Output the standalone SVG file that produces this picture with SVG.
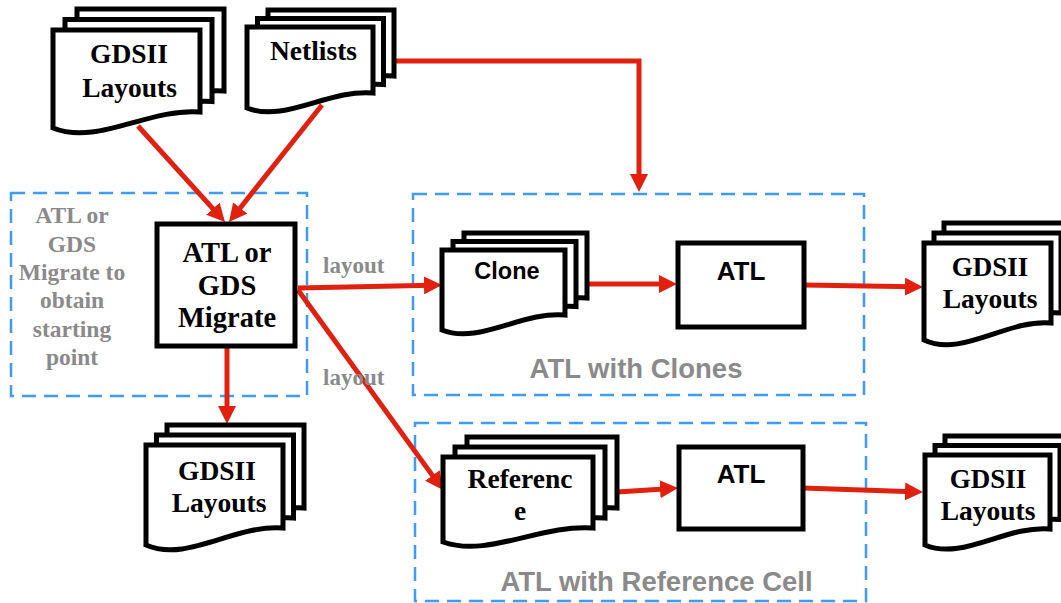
<svg xmlns="http://www.w3.org/2000/svg" xmlns:xlink="http://www.w3.org/1999/xlink" width="1061" height="603" viewBox="0 0 1061 603">
  <style>
    .page { fill: #ffffff; stroke: #000000; stroke-width: 5; stroke-linejoin: miter; }
    .box { fill: #ffffff; stroke: #000000; stroke-width: 5; }
    .group { fill: none; stroke: #3f9cf5; stroke-width: 2.5; stroke-dasharray: 14 8; }
    .flow { fill: none; stroke: #e2200f; stroke-width: 5; marker-end: url(#arrow); }
    .serif { font-family: "Liberation Serif", "Times New Roman", serif; font-weight: bold; fill: #000000; text-anchor: middle; }
    .sans { font-family: "Liberation Sans", Arial, sans-serif; font-weight: bold; fill: #000000; text-anchor: middle; }
    .note { font-family: "Liberation Serif", "Times New Roman", serif; font-weight: bold; fill: #8a8a8a; text-anchor: middle; font-size: 23.5px; }
    .edge-label { font-family: "Liberation Serif", "Times New Roman", serif; font-weight: bold; fill: #8a8a8a; font-size: 23px; }
    .caption { font-family: "Liberation Sans", Arial, sans-serif; font-weight: bold; fill: #8a8a8a; text-anchor: middle; font-size: 27.5px; }
  </style>
  <defs>
    <marker id="arrow" viewBox="0 0 18 18" markerWidth="18" markerHeight="18" markerUnits="userSpaceOnUse" refX="8" refY="9" orient="auto">
      <path d="M0,0 L18,9 L0,18 Z" fill="#e2200f"/>
    </marker>
    <!-- document sheets with a wavy lower edge, origin at the top-left corner -->
    <path id="doc-gdsii-tl" class="page" d="M0,0 H147 V82 C95.6,78 44.1,116 0,98 Z"/>
    <path id="doc-netlists" class="page" d="M0,0 H126 V66 C81.9,62 37.8,96 0,81 Z"/>
    <path id="doc-clone" class="page" d="M0,0 H123 V65 C80,61 36.9,95 0,80 Z"/>
    <path id="doc-reference" class="page" d="M0,0 H150 V71 C97.5,67 45,101 0,85 Z"/>
    <path id="doc-gdsii-bl" class="page" d="M0,0 H137 V83 C89,79 41,118 0,100 Z"/>
    <path id="doc-gdsii-rt" class="page" d="M0,0 H127 V80 C82.6,76 38.1,115 0,97 Z"/>
    <path id="doc-gdsii-rb" class="page" d="M0,0 H125 V74 C81,70 37.5,106 0,90 Z"/>
  </defs>

  <rect width="1061" height="603" fill="#ffffff"/>

  <!-- dashed grouping frames -->
  <g id="frames">
    <rect class="group" x="11" y="193" width="296" height="203"/>
    <rect class="group" x="413" y="194" width="451" height="201"/>
    <rect class="group" x="415" y="423" width="451" height="178"/>
  </g>

  <g id="frame-labels">
    <text class="note" x="72" y="223">ATL or</text>
    <text class="note" x="72" y="251.5">GDS</text>
    <text class="note" x="72" y="280">Migrate to</text>
    <text class="note" x="72" y="308">obtain</text>
    <text class="note" x="72" y="336.5">starting</text>
    <text class="note" x="72" y="364.5">point</text>
    <text class="caption" x="636" y="378">ATL with Clones</text>
    <text class="caption" x="656.5" y="591">ATL with Reference Cell</text>
  </g>

  <!-- connectors -->
  <g id="connectors">
    <line class="flow" x1="138" y1="126" x2="218.3" y2="214.6"/>
    <line class="flow" x1="322" y1="105" x2="235.2" y2="214.2"/>
    <path class="flow" d="M393,61 H639 V182"/>
    <line class="flow" x1="227" y1="346" x2="227" y2="414"/>
    <line class="flow" x1="298" y1="288" x2="432" y2="285.2"/>
    <line class="flow" x1="298" y1="290" x2="437.1" y2="481.9"/>
    <line class="flow" x1="588" y1="284" x2="667" y2="284"/>
    <line class="flow" x1="804" y1="285" x2="913" y2="286.8"/>
    <line class="flow" x1="617" y1="492" x2="668" y2="488.7"/>
    <line class="flow" x1="803" y1="488" x2="913" y2="491.7"/>
    <text class="edge-label" x="323" y="273">layout</text>
    <text class="edge-label" x="323" y="385">layout</text>
  </g>

  <g id="gdsii-input">
    <use xlink:href="#doc-gdsii-tl" x="77" y="9"/>
    <use xlink:href="#doc-gdsii-tl" x="65" y="19.5"/>
    <use xlink:href="#doc-gdsii-tl" x="53" y="30"/>
    <text class="serif" font-size="27.5" x="129" y="63">GDSII</text>
    <text class="serif" font-size="27.5" x="129.5" y="97">Layouts</text>
  </g>

  <g id="netlists">
    <use xlink:href="#doc-netlists" x="268" y="10"/>
    <use xlink:href="#doc-netlists" x="257.5" y="18.5"/>
    <use xlink:href="#doc-netlists" x="247" y="27"/>
    <text class="serif" font-size="27.5" x="313.5" y="60">Netlists</text>
  </g>

  <g id="migrate">
    <rect class="box" x="157" y="224" width="138" height="122"/>
    <text class="serif" font-size="28.5" x="227" y="262">ATL or</text>
    <text class="serif" font-size="28.5" x="227" y="294.5">GDS</text>
    <text class="serif" font-size="28.5" x="227" y="327">Migrate</text>
  </g>

  <g id="gdsii-start">
    <use xlink:href="#doc-gdsii-bl" x="167" y="425"/>
    <use xlink:href="#doc-gdsii-bl" x="156.5" y="435"/>
    <use xlink:href="#doc-gdsii-bl" x="146" y="445"/>
    <text class="serif" font-size="27.5" x="217" y="480">GDSII</text>
    <text class="serif" font-size="27.5" x="219" y="512">Layouts</text>
  </g>

  <g id="clone">
    <use xlink:href="#doc-clone" x="464" y="233"/>
    <use xlink:href="#doc-clone" x="453" y="241.5"/>
    <use xlink:href="#doc-clone" x="442" y="250"/>
    <text class="sans" font-size="23.5" x="507" y="279">Clone</text>
  </g>

  <g id="atl-clones">
    <rect class="box" x="678" y="243" width="126" height="84"/>
    <text class="sans" font-size="26" x="741" y="280">ATL</text>
  </g>

  <g id="gdsii-clones">
    <use xlink:href="#doc-gdsii-rt" x="944" y="223"/>
    <use xlink:href="#doc-gdsii-rt" x="934" y="233"/>
    <use xlink:href="#doc-gdsii-rt" x="924" y="243"/>
    <text class="serif" font-size="27" x="990" y="276">GDSII</text>
    <text class="serif" font-size="27.5" x="990" y="308">Layouts</text>
  </g>

  <g id="reference">
    <use xlink:href="#doc-reference" x="467" y="437"/>
    <use xlink:href="#doc-reference" x="455" y="447"/>
    <use xlink:href="#doc-reference" x="443" y="457"/>
    <text class="serif" font-size="27.5" x="520" y="488">Referenc</text>
    <text class="serif" font-size="27.5" x="520" y="520">e</text>
  </g>

  <g id="atl-reference">
    <rect class="box" x="679" y="447" width="124" height="82"/>
    <text class="sans" font-size="26" x="741" y="483">ATL</text>
  </g>

  <g id="gdsii-reference">
    <use xlink:href="#doc-gdsii-rb" x="945" y="436"/>
    <use xlink:href="#doc-gdsii-rb" x="935" y="445.5"/>
    <use xlink:href="#doc-gdsii-rb" x="925" y="455"/>
    <text class="serif" font-size="27" x="988" y="488">GDSII</text>
    <text class="serif" font-size="27.5" x="988" y="520">Layouts</text>
  </g>
</svg>
